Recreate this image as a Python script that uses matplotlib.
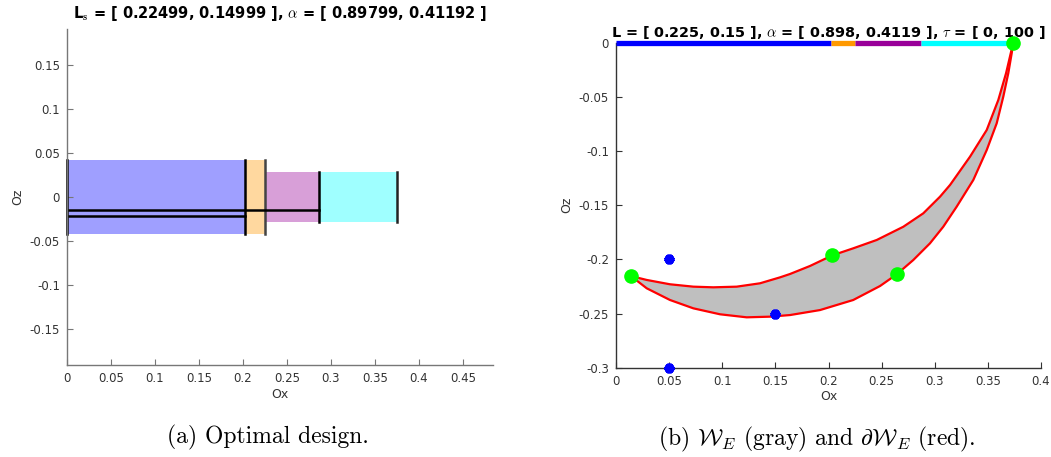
import matplotlib
matplotlib.use('Agg')
import matplotlib.pyplot as plt
import numpy as np

plt.rcParams['mathtext.fontset'] = 'cm'

# design segments (left panel and bar of right panel)
seg_x = [0.0, 0.20205, 0.22499, 0.28678, 0.37498]
seg_h = [0.0425, 0.0425, 0.0285, 0.0285]
seg_colors = ['#0000ff', '#ff9900', '#990099', '#00ffff']
edge_colors = ['black', '#444444', 'black', '#222222']
beam_y = [-0.0145, -0.0213]
beam_end = [0.28678, 0.20205]

# workspace boundary (right panel)
upper_x = [0.0141, 0.0289, 0.0508, 0.0728, 0.0916, 0.1136, 0.1355, 0.1544, 0.1638, 0.1826,
           0.2036, 0.2233, 0.2454, 0.2704, 0.2892, 0.3049, 0.3144, 0.3332, 0.3489, 0.3598,
           0.3671, 0.3715, 0.3739]
upper_z = [-0.2154, -0.2190, -0.2230, -0.2252, -0.2258, -0.2252, -0.2221, -0.2166, -0.2135, -0.2061,
           -0.1963, -0.1898, -0.1821, -0.1699, -0.1575, -0.1422, -0.1313, -0.1052, -0.0806, -0.0529,
           -0.0282, -0.0098, 0.0]
lower_x = [0.0141, 0.0289, 0.0508, 0.0728, 0.0979, 0.1230, 0.1449, 0.1638, 0.1920, 0.2233,
           0.2485, 0.2642, 0.2798, 0.2955, 0.3080, 0.3206, 0.3363, 0.3489, 0.3583, 0.3645,
           0.3692, 0.3724, 0.3739]
lower_z = [-0.2154, -0.2267, -0.2375, -0.2452, -0.2507, -0.2535, -0.2529, -0.2514, -0.2468, -0.2375,
           -0.2246, -0.2138, -0.2006, -0.1852, -0.1699, -0.1514, -0.1267, -0.0991, -0.0744, -0.0498,
           -0.0282, -0.0098, 0.0]
green_x = [0.3739, 0.0141, 0.2036, 0.2642]
green_z = [0.0, -0.2154, -0.1963, -0.2138]
target_x = [0.05, 0.15, 0.05]
target_z = [-0.2, -0.25, -0.3]

left_xticks = [0, 0.05, 0.1, 0.15, 0.2, 0.25, 0.3, 0.35, 0.4, 0.45]
left_yticks = [-0.15, -0.1, -0.05, 0, 0.05, 0.1, 0.15]
right_xticks = [0, 0.05, 0.1, 0.15, 0.2, 0.25, 0.3, 0.35, 0.4]
right_yticks = [-0.3, -0.25, -0.2, -0.15, -0.1, -0.05, 0]

title_a = r'L$_\mathbf{s}$ = [ 0.22499, 0.14999 ], $\alpha$ = [ 0.89799, 0.41192 ]'
title_b = r'L = [ 0.225, 0.15 ], $\alpha$ = [ 0.898, 0.4119 ], $\tau$ = [ 0, 100 ]'
caption_a = '(a) Optimal design.'
caption_b = r'(b) $\mathcal{W}_E$ (gray) and $\partial\mathcal{W}_E$ (red).'


def style_axes(ax, xt, yt, spine_col):
    ax.spines['top'].set_visible(False)
    ax.spines['right'].set_visible(False)
    ax.spines['left'].set_color(spine_col)
    ax.spines['bottom'].set_color(spine_col)
    ax.spines['left'].set_linewidth(1.0)
    ax.spines['bottom'].set_linewidth(1.0)
    ax.set_xticks(xt)
    ax.set_yticks(yt)
    ax.set_xticklabels(['%g' % v for v in xt])
    ax.set_yticklabels(['%g' % v for v in yt])
    ax.tick_params(direction='in', length=4, color=spine_col, labelsize=8.5,
                   labelcolor='#333333', pad=5)
    ax.set_xlabel('Ox', fontsize=9, color='#333333', labelpad=2)
    ax.set_ylabel('Oz', fontsize=9, color='#333333', labelpad=4)


fig = plt.figure(figsize=(10.51, 4.57), dpi=100)

# ---- (a) optimal design
ax1 = fig.add_axes([0.0637, 0.2013, 0.4053, 0.7352])
for i in range(4):
    x0, x1 = seg_x[i], seg_x[i + 1]
    ax1.fill_between([x0, x1], -seg_h[i], seg_h[i], color=seg_colors[i], alpha=0.375, lw=0)
ax1.plot([seg_x[0], seg_x[0]], [-seg_h[0], seg_h[0]], color='black', lw=1.8, clip_on=False)
for i in range(4):
    ax1.plot([seg_x[i + 1], seg_x[i + 1]], [-seg_h[i], seg_h[i]], color=edge_colors[i], lw=1.8)
for y, xe in zip(beam_y, beam_end):
    ax1.plot([0, xe], [y, y], color='black', lw=1.8)
ax1.set_xlim(0, 0.484)
ax1.set_ylim(-0.1916, 0.1916)
style_axes(ax1, left_xticks, left_yticks, '#777777')
ax1.set_title(title_a, fontsize=10.5, fontweight='bold', pad=8)

# ---- (b) workspace
ax2 = fig.add_axes([0.5861, 0.1954, 0.4044, 0.7112])
poly_x = upper_x + lower_x[::-1]
poly_z = upper_z + lower_z[::-1]
ax2.fill(poly_x, poly_z, color='#bfbfbf', lw=0)
ax2.plot(upper_x, upper_z, color='red', lw=1.6)
ax2.plot(lower_x, lower_z, color='red', lw=1.6)
for i in range(4):
    ax2.plot([seg_x[i], seg_x[i + 1]], [0, 0], color=seg_colors[i], lw=3.8,
             solid_capstyle='butt', clip_on=False, zorder=3)
ax2.plot(target_x, target_z, ls='none', marker=(6, 2, 0), ms=7, mew=3.2,
         color='blue', clip_on=False, zorder=4)
ax2.plot(target_x, target_z, ls='none', marker='o', ms=5, color='blue',
         clip_on=False, zorder=4)
ax2.plot(green_x, green_z, ls='none', marker='o', ms=9.5, color='#00ff00',
         clip_on=False, zorder=5)
ax2.set_xlim(0, 0.4)
ax2.set_ylim(-0.3, 0)
style_axes(ax2, right_xticks, right_yticks, '#333333')
ax2.set_title(title_b, fontsize=10.4, fontweight='bold', pad=4)

fig.text(0.255, 0.042, caption_a, ha='center', va='center', fontsize=17, family='cmr10')
fig.text(0.777, 0.038, caption_b, ha='center', va='center', fontsize=17, family='cmr10')

fig.savefig('out.png', dpi=100)
